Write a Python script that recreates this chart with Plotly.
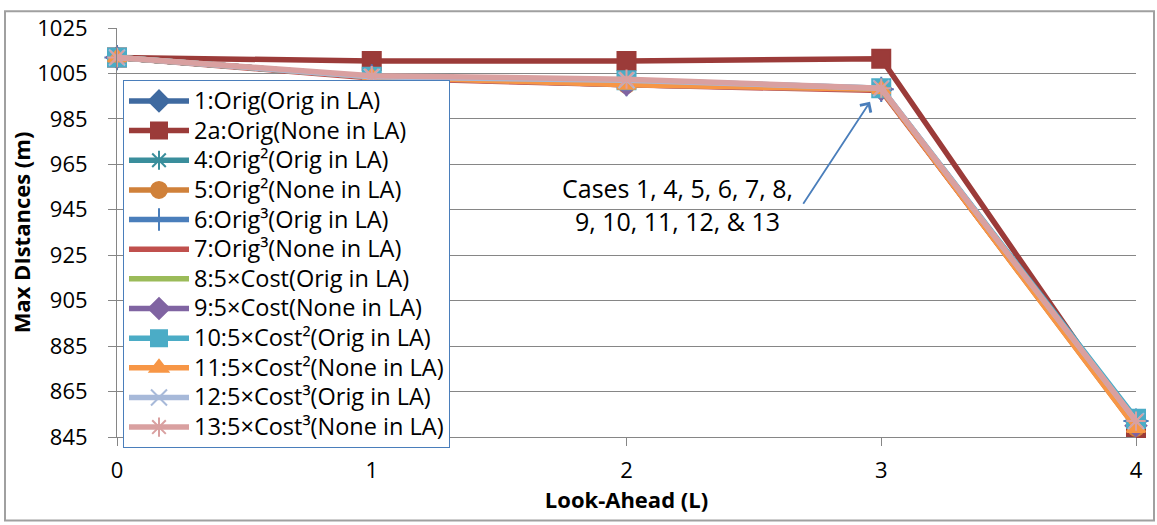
import plotly.graph_objects as go

look_ahead = [0, 1, 2, 3, 4]

names = [
    "1:Orig(Orig in LA)", "2a:Orig(None in LA)", "4:Orig²(Orig in LA)", "5:Orig²(None in LA)",
    "6:Orig³(Orig in LA)", "7:Orig³(None in LA)", "8:5×Cost(Orig in LA)", "9:5×Cost(None in LA)",
    "10:5×Cost²(Orig in LA)", "11:5×Cost²(None in LA)", "12:5×Cost³(Orig in LA)", "13:5×Cost³(None in LA)",
]

case1 = [1012, 1003.5, 1000.5, 998, 852]
case2a = [1012, 1010.5, 1010.5, 1011.5, 849]
case4 = [1012, 1003.5, 1001, 998, 852]
case5 = [1012, 1003.5, 1000, 998, 849]
case6 = [1012, 1003.5, 1000.5, 998, 852]
case7 = [1012, 1003, 1000, 997.5, 850]
case8 = [1012, 1003.5, 1000.5, 998, 852]
case9 = [1012, 1003.5, 1000, 998, 850]
case10 = [1012, 1003.5, 1002, 998.5, 853]
case11 = [1012, 1003.5, 1000, 998, 849]
case12 = [1012, 1003.5, 1002, 998.5, 852]
case13 = [1012, 1004, 1002.5, 998.5, 852]

series = [case1, case2a, case4, case5, case6, case7, case8, case9, case10, case11, case12, case13]

colors = ["#3f6aa0", "#9b3b39", "#3a8e9c", "#d0813a", "#4a7ebb", "#c0504d",
          "#9bbb59", "#8064a2", "#4bacc6", "#f79646", "#a7b9d9", "#d9a0a0"]
symbols = ["diamond", "square", "asterisk-open", "circle", "cross-thin-open", None,
           None, "diamond", "square", "triangle-up", "x-thin-open", "asterisk-open"]
sizes = [16, 18, 16, 16, 18, 0, 0, 16, 18, 16, 16, 16]

fig = go.Figure()
for name, vals, col, sym, sz in zip(names, series, colors, symbols, sizes):
    if sym is None:
        mode = "lines"
        marker = dict()
    else:
        mode = "lines+markers"
        marker = dict(symbol=sym, size=sz, color=col, line=dict(color=col, width=2))
    fig.add_trace(go.Scatter(x=look_ahead, y=vals,
                             name='<span style="font-size:23.5px">' + name + '</span>',
                             mode=mode, line=dict(color=col, width=5.5), marker=marker,
                             cliponaxis=False))

W, H = 1157, 525
ml, mr, mt, mb = 117, 21, 21, 88
pw, ph = W - ml - mr, H - mt - mb

def px_x(p):
    return (p - ml) / pw

def px_y(p):
    return 1 - (p - mt) / ph

font_family = "Open Sans"

fig.update_layout(
    width=W, height=H,
    margin=dict(l=ml, r=mr, t=mt, b=mb),
    paper_bgcolor="white", plot_bgcolor="white",
    font=dict(family=font_family, color="black"),
    showlegend=True,
    legend=dict(x=px_x(123), y=px_y(74), xanchor="left", yanchor="top",
                bgcolor="white", bordercolor="#4a7ebb", borderwidth=1,
                font=dict(family=font_family, size=20.5, color="black"),
                itemwidth=60, tracegroupgap=0),
    xaxis=dict(range=[0, 4], dtick=1, tick0=0, showgrid=False, zeroline=False,
               showline=True, linecolor="#868686", linewidth=1,
               ticks="outside", ticklen=8, tickcolor="#868686",
               tickfont=dict(size=22), ticklabelstandoff=6,
               title=dict(text="Look-Ahead (L)", font=dict(size=22, weight="bold"), standoff=8)),
    yaxis=dict(range=[845, 1025], dtick=20, tick0=845, showgrid=True, gridcolor="#868686",
               gridwidth=1, zeroline=False,
               showline=True, linecolor="#868686", linewidth=1,
               ticks="outside", ticklen=8, tickcolor="#868686",
               tickfont=dict(size=22), ticklabelstandoff=16,
               title=dict(text="Max DIstances (m)", font=dict(size=22, weight="bold"), standoff=0)),
    shapes=[dict(type="rect", xref="paper", yref="paper",
                 x0=px_x(5), x1=px_x(1154), y0=px_y(522), y1=px_y(4),
                 line=dict(color="#a0a0a0", width=2), fillcolor="rgba(0,0,0,0)", layer="below")],
    annotations=[
        dict(x=2.956, y=992.5, ax=2.69, ay=947, xref="x", yref="y", axref="x", ayref="y",
             text="", showarrow=True, arrowhead=4, arrowsize=1.4, arrowwidth=1.8,
             arrowcolor="#4a7ebb"),
        dict(x=2.202, y=947.5, xref="x", yref="y", showarrow=False,
             text="Cases 1, 4, 5, 6, 7, 8,<br>9, 10, 11, 12, & 13", align="center",
             font=dict(size=25, color="black")),
    ],
)

fig.write_html("out.html")
